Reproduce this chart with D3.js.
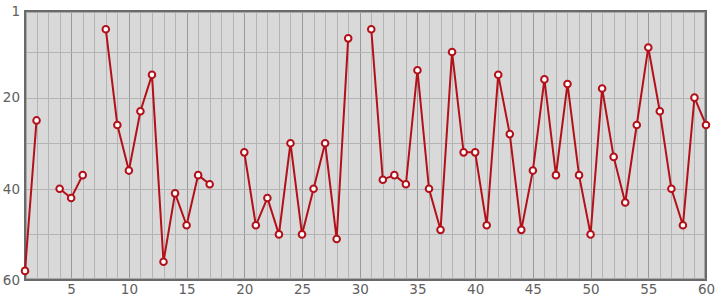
<!DOCTYPE html>
<html>
<head>
<meta charset="utf-8">
<script src="https://cdn.jsdelivr.net/npm/d3@7"></script>
<style>
  html, body { margin: 0; padding: 0; background: #fff; }
  svg text { font-family: "DejaVu Sans", sans-serif; }
</style>
</head>
<body>
<div id="chart"></div>
<script>
// data; null = missing point (line breaks)
const xValues = d3.range(1, 61);
const yValues = [58, 25, null, 40, 42, 37, null, 5, 26, 36,
                 23, 15, 56, 41, 48, 37, 39, null, null, 32,
                 48, 42, 50, 30, 50, 40, 30, 51, 7, null,
                 5, 38, 37, 39, 14, 40, 49, 10, 32, 32,
                 48, 15, 28, 49, 36, 16, 37, 17, 37, 50,
                 18, 33, 43, 26, 9, 23, 40, 48, 20, 26];
const xTickLabels = [5, 10, 15, 20, 25, 30, 35, 40, 45, 50, 55, 60];
const yTickLabels = [1, 20, 40, 60];
const yGridValues = [10, 20, 30, 40, 50];

const width = 715, height = 300;
const margin = {left: 25, right: 9, top: 11, bottom: 20};

const svg = d3.select("#chart").append("svg")
    .attr("width", width)
    .attr("height", height);

const x = d3.scaleLinear().domain([1, 60]).range([margin.left, width - margin.right]);
const y = d3.scaleLinear().domain([1, 60]).range([margin.top, height - margin.bottom]);

// plot background
svg.append("rect")
    .attr("x", x(1)).attr("y", y(1))
    .attr("width", x(60) - x(1)).attr("height", y(60) - y(1))
    .attr("fill", "#d9d9d9");

// vertical grid, every unit, darker every 5
svg.append("g").selectAll("line")
    .data(xValues.filter(d => d > 1 && d < 60))
    .join("line")
    .attr("x1", d => Math.round(x(d)) + 0.5).attr("x2", d => Math.round(x(d)) + 0.5)
    .attr("y1", y(1)).attr("y2", y(60))
    .attr("stroke", d => d % 5 === 0 ? "#999" : "#b4b4b4")
    .attr("stroke-width", 1);

// horizontal grid
svg.append("g").selectAll("line")
    .data(yGridValues)
    .join("line")
    .attr("x1", x(1)).attr("x2", x(60))
    .attr("y1", d => Math.round(y(d)) + 0.5).attr("y2", d => Math.round(y(d)) + 0.5)
    .attr("stroke", "#b4b4b4")
    .attr("stroke-width", 1);

// frame
svg.append("rect")
    .attr("x", x(1) + 1.5).attr("y", y(1) + 1.5)
    .attr("width", x(60) - x(1) - 3).attr("height", y(60) - y(1) - 3)
    .attr("fill", "none").attr("stroke", "#a8a8a8").attr("stroke-width", 1);
svg.append("rect")
    .attr("x", x(1)).attr("y", y(1))
    .attr("width", x(60) - x(1)).attr("height", y(60) - y(1))
    .attr("fill", "none").attr("stroke", "#6a6a6a").attr("stroke-width", 2);

// axes labels
const xAxis = d3.axisBottom(x).tickValues(xTickLabels).tickSize(0).tickPadding(4);
svg.append("g")
    .attr("transform", `translate(0,${y(60)})`)
    .call(xAxis)
    .call(g => g.select(".domain").remove())
    .call(g => g.selectAll("text").attr("fill", "#606060").style("font-size", "13.5px"));

const yAxis = d3.axisLeft(y).tickValues(yTickLabels).tickSize(0).tickPadding(5);
svg.append("g")
    .attr("transform", `translate(${x(1)},0)`)
    .call(yAxis)
    .call(g => g.select(".domain").remove())
    .call(g => g.selectAll("text").attr("fill", "#606060").style("font-size", "13.5px"));

// series
const data = xValues.map((d, i) => ({x: d, y: yValues[i]}));
const line = d3.line()
    .defined(d => d.y !== null)
    .x(d => x(d.x))
    .y(d => y(d.y));

svg.append("path")
    .datum(data)
    .attr("fill", "none")
    .attr("stroke", "#b31019")
    .attr("stroke-width", 2)
    .attr("d", line);

svg.append("g").selectAll("circle")
    .data(data.filter(d => d.y !== null))
    .join("circle")
    .attr("cx", d => x(d.x))
    .attr("cy", d => y(d.y))
    .attr("r", 3.3)
    .attr("fill", "#fff")
    .attr("stroke", "#b31019")
    .attr("stroke-width", 2);
</script>
</body>
</html>
